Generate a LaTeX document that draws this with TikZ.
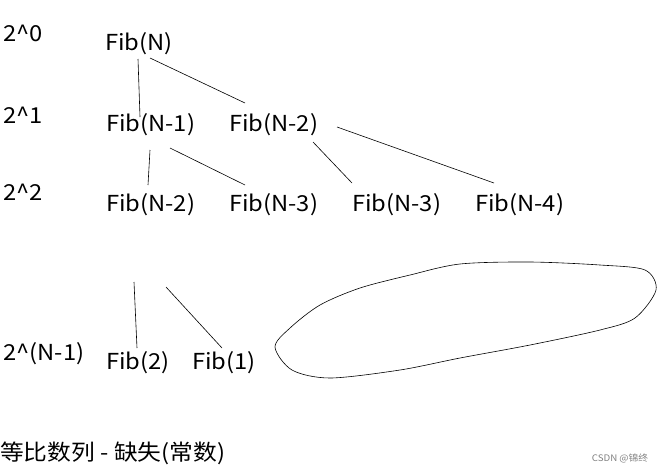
\documentclass[tikz,border=0pt]{standalone}
\usepackage{fontspec}
\setmainfont[FakeStretch=1.08]{Noto Sans CJK SC}
\usetikzlibrary{calc}
\begin{document}
\begin{tikzpicture}[x=1pt,y=-1pt]
	\tikzstyle{every node}=[font=\fontsize{22}{24}\selectfont, inner sep=0pt, anchor=west]
	\tikzset{edge/.style={line width=0.6pt}}
	\useasboundingbox (0,0) rectangle (666,472);
	% levels
	\node (l0) at (3,33) {2\^{}0};
	\node (l1) at (3,115) {2\^{}1};
	\node (l2) at (3,192) {2\^{}2};
	\node (ln) at (3,354) {2\^{}(N-1)};
	% tree
	\node (fn) at (105,44) {Fib(N)};
	\node (a1) at (106,125) {Fib(N-1)};
	\node (a2) at (229,125) {Fib(N-2)};
	\node (b1) at (106,205) {Fib(N-2)};
	\node (b2) at (229,205) {Fib(N-3)};
	\node (b3) at (352,205) {Fib(N-3)};
	\node (b4) at (475,205) {Fib(N-4)};
	\node (c1) at (106,363) {Fib(2)};
	\node (c2) at (192,363) {Fib(1)};
	\coordinate (d1) at (134,282);
	\coordinate (d2) at (166,287);
	\draw[edge] (138,59) -- (140,117);
	\draw[edge] (150,58) -- (245,103);
	\draw[edge] (150,150) -- (148,185);
	\draw[edge] (170,148) -- (245,185);
	\draw[edge] (313,142) -- (352,183);
	\draw[edge] (337,127) -- (494,183);
	\draw[edge] (d1) -- (137,348);
	\draw[edge] (d2) -- (222,348);
	% blob
	\draw[edge] plot[smooth cycle, tension=0.5] coordinates {(275,347) (290,328) (320,305) (360,288) (410,275) (460,264) (530,262) (600,265) (645,270) (656,290) (635,318) (600,330) (530,345) (460,358) (400,370) (330,378) (292,370)};
	\node (cap) at (0,453) {等比数列 - 缺失(常数)};
	\node[font=\fontsize{9}{10}\selectfont, text=gray, anchor=center] (wm) at (620,458) {CSDN @锦终};
\end{tikzpicture}
\end{document}
